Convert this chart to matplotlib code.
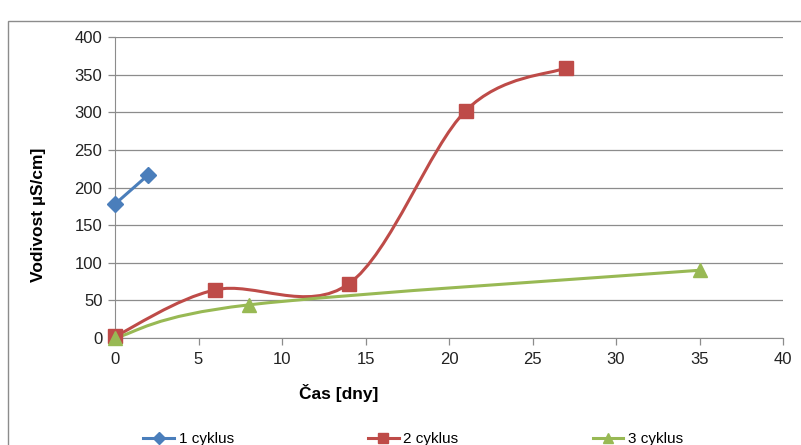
import matplotlib

matplotlib.use("Agg")

import matplotlib.pyplot as plt
import numpy as np
from matplotlib.lines import Line2D
from matplotlib.patches import PathPatch, Rectangle
from matplotlib.path import Path

plt.rcParams["font.family"] = ["Liberation Sans", "DejaVu Sans"]

# Mereni vodivosti pro jednotlive cykly
cyklus1_dny = [0, 2]
cyklus1_vodivost = [178, 217]
cyklus2_dny = [0, 6, 14, 21, 27]
cyklus2_vodivost = [2, 64, 72, 302, 359]
cyklus3_dny = [0, 8, 35]
cyklus3_vodivost = [0, 44, 90]

nazvy = ["1 cyklus", "2 cyklus", "3 cyklus"]
barvy = ["#4A7EBB", "#BE4B48", "#98B954"]
znacky = ["D", "s", "^"]
velikosti = [8, 10, 10]

W, H = 801, 445
fig = plt.figure(figsize=(W / 100, H / 100), dpi=100)
ax = fig.add_axes([115 / W, (H - 338) / H, (783 - 115) / W, (338 - 37) / H])

# ramecek grafu (vpravo a dole oriznuty)
fig.patches.append(Rectangle((8 / W, -0.2), 1.2, (H - 21) / H + 0.2,
                             transform=fig.transFigure, fill=False,
                             edgecolor="#8c8c8c", linewidth=1.0, clip_on=False))

ax.set_xlim(0, 40)
ax.set_ylim(0, 400)


def vyhlazena_cesta(ax, x, y):
    """Bezierova krivka jako vyhlazena cara v Excelu (pocitano v pixelech)."""
    pts = ax.transData.transform(np.column_stack([x, y]))
    n = len(pts)
    verts = [pts[0]]
    codes = [Path.MOVETO]
    for i in range(n - 1):
        p0 = pts[i - 1] if i > 0 else pts[i]
        p1 = pts[i]
        p2 = pts[i + 1]
        p3 = pts[i + 2] if i + 2 < n else pts[i + 1]
        c1 = p1 + (p2 - p0) / 6
        c2 = p2 - (p3 - p1) / 6
        verts += [c1, c2, p2]
        codes += [Path.CURVE4] * 3
    verts = ax.transData.inverted().transform(np.array(verts))
    return Path(verts, codes)


serie = [(cyklus1_dny, cyklus1_vodivost),
         (cyklus2_dny, cyklus2_vodivost),
         (cyklus3_dny, cyklus3_vodivost)]

handles = []
for (x, y), nazev, barva, znacka, ms in zip(serie, nazvy, barvy, znacky, velikosti):
    ax.add_patch(PathPatch(vyhlazena_cesta(ax, x, y), facecolor="none",
                           edgecolor=barva, linewidth=2.2, zorder=3,
                           capstyle="round", joinstyle="round"))
    ax.plot(x, y, linestyle="none", marker=znacka, markersize=ms,
            color=barva, zorder=4, clip_on=False)
    handles.append(Line2D([], [], color=barva, linewidth=2.2, marker=znacka,
                          markersize=ms * 0.75, label=nazev))

ax.set_xticks(range(0, 41, 5))
ax.set_yticks(range(0, 401, 50))
ax.grid(axis="y", color="#8c8c8c", linewidth=0.9)
ax.set_axisbelow(True)
for strana in ["top", "right"]:
    ax.spines[strana].set_visible(False)
for strana in ["left", "bottom"]:
    ax.spines[strana].set_color("#8c8c8c")
ax.tick_params(axis="both", direction="out", length=5, color="#8c8c8c",
               labelsize=12, labelcolor="#222222", width=0.9)
ax.tick_params(axis="x", pad=5)
ax.tick_params(axis="y", pad=4)

ax.set_xlabel("Čas [dny]", fontsize=12.5, fontweight="bold")
ax.xaxis.set_label_coords(0.335, -0.152)
ax.set_ylabel("Vodivost µS/cm]", fontsize=12.5, fontweight="bold")
ax.yaxis.set_label_coords(-0.103, 0.41)

fig.legend(handles=handles, loc="center", ncol=3, frameon=False,
           bbox_to_anchor=(0.516, (H - 439) / H), fontsize=11,
           columnspacing=8.8, handlelength=2.0, handletextpad=0.3)

fig.savefig("out.png", dpi=100)
